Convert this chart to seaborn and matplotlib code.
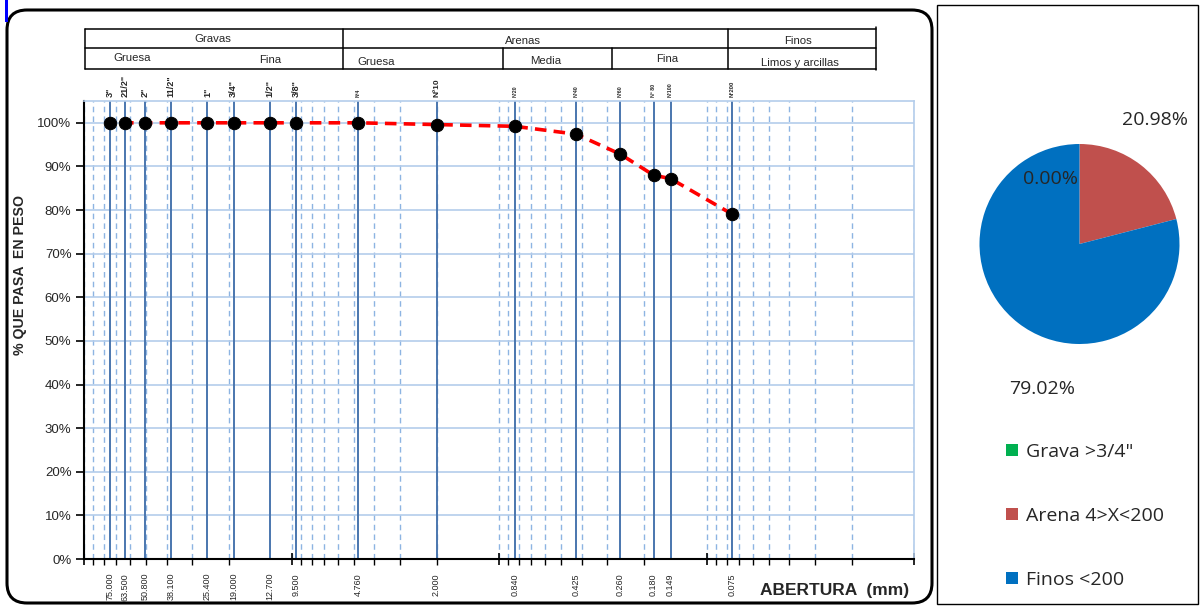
import numpy as np
import pandas as pd
import matplotlib
matplotlib.use("Agg")
import matplotlib.pyplot as plt
import seaborn as sns
from matplotlib.patches import FancyBboxPatch, Rectangle
from matplotlib.lines import Line2D
from matplotlib.ticker import PercentFormatter, LogLocator, NullFormatter
import matplotlib.transforms as mtransforms

# ---------------- data ----------------
sieve_names = ['3"', '21/2"', '2"', '11/2"', '1"', '3/4"', '1/2"', '3/8"',
               'Nº4', 'Nº10', 'Nº20', 'Nº40', 'Nº60', 'Nº 80', 'Nº100', 'Nº200']
sieve_mm = [75.0, 63.5, 50.8, 38.1, 25.4, 19.0, 12.7, 9.5,
            4.76, 2.0, 0.84, 0.425, 0.26, 0.18, 0.149, 0.075]
size_labels = ['75.000', '63.500', '50.800', '38.100', '25.400', '19.000', '12.700', '9.500',
               '4.760', '2.000', '0.840', '0.425', '0.260', '0.180', '0.149', '0.075']
passing = [100, 100, 100, 100, 100, 100, 100, 100,
           100, 99.6, 99.2, 97.4, 92.8, 88.0, 87.2, 79.02]

pie_labels = ['Grava >3/4"', 'Arena 4>X<200', 'Finos <200']
pie_values = [0.00, 20.98, 79.02]
pie_texts = ['0.00%', '20.98%', '79.02%']
pie_colors = ['#00B050', '#C0504D', '#0070C0']

df = pd.DataFrame({"abertura": sieve_mm, "pasa": passing})

# ---------------- style ----------------
sns.set_style("white")
plt.rcParams['font.family'] = ['Liberation Sans', 'DejaVu Sans']
calib = ['Open Sans', 'Noto Sans', 'DejaVu Sans']
top_label_size = {'Nº10': 6.0, 'Nº4': 3.6, 'Nº20': 3.8, 'Nº40': 3.8, 'Nº60': 3.8,
                  'Nº 80': 3.8, 'Nº100': 3.8, 'Nº200': 4.2}

W, H = 1202, 606
fig = plt.figure(figsize=(W / 100, H / 100), dpi=100)
fig.patch.set_facecolor('white')

# overlay in pixel coordinates for frames and header table
ov = fig.add_axes([0, 0, 1, 1], zorder=0)
ov.set_xlim(0, W)
ov.set_ylim(H, 0)
ov.axis('off')

ov.add_patch(FancyBboxPatch((7, 10), 925, 593, boxstyle="round,pad=0,rounding_size=20",
                            fill=False, edgecolor='black', linewidth=2.2))
ov.add_patch(Rectangle((937, 5), 261, 599, fill=False, edgecolor='black', linewidth=1.0))
ov.add_patch(Rectangle((4.5, 0), 3, 22, color='#0000FF', linewidth=0))

for yy in (29, 48, 69):
    ov.add_line(Line2D([85, 876], [yy, yy], color='black', lw=1.1))
for xx, y0, y1 in [(85, 29, 69), (343, 29, 69), (503, 48, 69), (612, 48, 69),
                   (728, 29, 69), (876, 27, 70)]:
    ov.add_line(Line2D([xx, xx], [y0, y1], color='black', lw=1.1))

header = [("Gravas", 213, 39), ("Gruesa", 132, 58), ("Fina", 270, 60),
          ("Arenas", 523, 41), ("Gruesa", 376, 62), ("Media", 546, 61), ("Fina", 667, 59),
          ("Finos", 798, 41), ("Limos y arcillas", 800, 63)]
for t, xx, yy in header:
    ov.text(xx, yy, t, ha='center', va='center', fontsize=8.2)

# ---------------- main curve ----------------
L, R, T, B = 84, 914, 101, 559
ax = fig.add_axes([L / W, 1 - B / H, (R - L) / W, (B - T) / H], zorder=1)
ax.set_facecolor('white')
ax.set_xscale('log')
ax.set_xlim(100, 0.01)
ax.set_ylim(0, 105)

ax.xaxis.set_major_locator(LogLocator(base=10, numticks=10))
ax.xaxis.set_minor_locator(LogLocator(base=10, subs=np.arange(2, 10), numticks=20))
ax.xaxis.set_major_formatter(NullFormatter())
ax.xaxis.set_minor_formatter(NullFormatter())
ax.grid(True, which='both', axis='x', color='#8DB4E2', linestyle=(0, (4, 3)), linewidth=1.0)
ax.set_yticks(np.arange(0, 101, 10))
ax.yaxis.set_major_formatter(PercentFormatter(decimals=0))
ax.grid(True, which='major', axis='y', color='#B4CDEB', linestyle='-', linewidth=1.2)

for s in sieve_mm:
    ax.axvline(s, color='#4A76AE', lw=1.4, zorder=2)

sns.lineplot(data=df, x="abertura", y="pasa", ax=ax, color='#FF0000', lw=2.6,
             linestyle=(0, (3.2, 2)), zorder=3, legend=False)
sns.scatterplot(data=df, x="abertura", y="pasa", ax=ax, color='black', s=80,
                edgecolor='black', zorder=4, legend=False)

for side in ('left', 'bottom'):
    ax.spines[side].set_color('black')
    ax.spines[side].set_linewidth(1.5)
for side in ('top', 'right'):
    ax.spines[side].set_color('#B4CDEB')
    ax.spines[side].set_linewidth(1.2)

ax.tick_params(axis='x', which='major', direction='inout', length=9, width=1.2, color='black', bottom=True)
ax.tick_params(axis='x', which='minor', direction='out', length=4, width=1.0, color='black', bottom=True)
ax.tick_params(axis='y', which='major', direction='out', length=6, width=1.2, color='black',
               left=True, labelsize=9.5, pad=3)

ax.set_xlabel("ABERTURA  (mm)", fontsize=12.5, fontweight='bold', va='center', ha='center')
ax.xaxis.set_label_coords((835 - L) / (R - L), -(590 - B) / (B - T))
ax.set_ylabel("% QUE PASA  EN PESO", fontsize=10.2, fontweight='bold', va='center', ha='center')
ax.yaxis.set_label_coords(-(L - 20) / (R - L), (B - 275) / (B - T))

trans = mtransforms.blended_transform_factory(ax.transData, ax.transAxes)
for s, name in zip(sieve_mm, sieve_names):
    ax.text(s, 1 + 4 / (B - T), name, transform=trans, rotation=90, ha='center', va='bottom',
            fontsize=top_label_size.get(name, 6.6), fontweight='bold', clip_on=False)
for s, lab in zip(sieve_mm, size_labels):
    ax.text(s, -(573 - B) / (B - T), lab, transform=trans, rotation=90, ha='center', va='top',
            fontsize=6.5, clip_on=False)

# ---------------- pie ----------------
cx, cy, rad = 1079.5, 244, 100
pax = fig.add_axes([(cx - rad) / W, 1 - (cy + rad) / H, 2 * rad / W, 2 * rad / H], zorder=1)
wedges, _ = pax.pie(pie_values, colors=pie_colors, startangle=90, counterclock=False,
                    wedgeprops=dict(linewidth=0))
pax.set_xlim(-1, 1)
pax.set_ylim(-1, 1)
pax.set_aspect('auto')

for t, (xx, yy) in zip(pie_texts, [(1050, 179), (1155, 120), (1042, 389)]):
    fig.text(xx / W, 1 - yy / H, t, ha='center', va='center', fontsize=14, family=calib,
             zorder=10)

leg = fig.legend(wedges, pie_labels, loc='upper left', bbox_to_anchor=(1006 / W, 1 - 443 / H),
                 frameon=False, prop=dict(family=calib, size=14), handlelength=0.62,
                 handleheight=0.57, handletextpad=0.42, labelspacing=2.37,
                 borderpad=0, borderaxespad=0)

fig.savefig("out.png", dpi=100, facecolor='white')
